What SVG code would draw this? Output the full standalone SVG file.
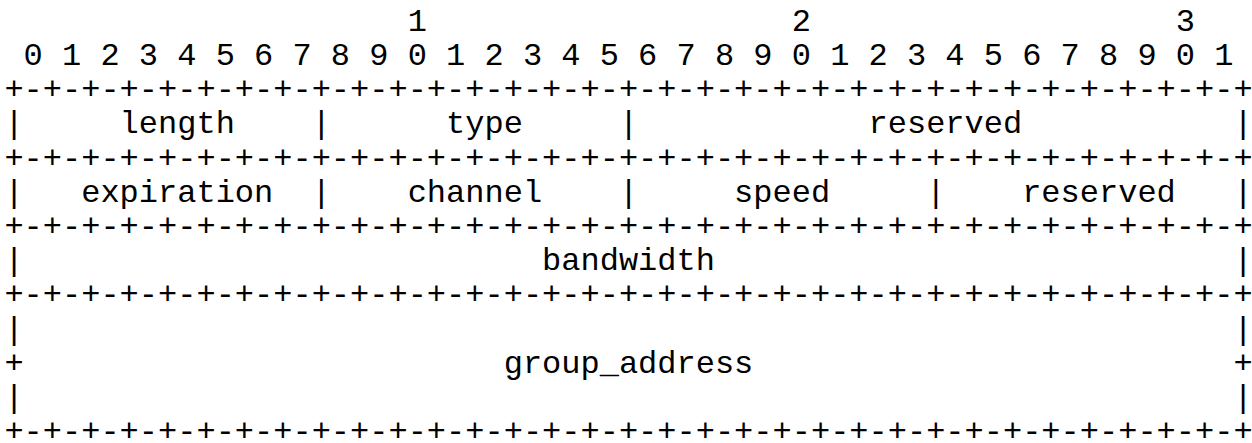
<svg xmlns="http://www.w3.org/2000/svg" width="1252" height="443" viewBox="0 0 1252 443">
<style>
text{font-family:"Liberation Mono","Courier New",monospace;font-size:32px;fill:#000;white-space:pre}
</style>
<rect width="1252" height="443" fill="#fff"/>
<g id="diagram" xml:space="preserve">
<text x="4.4" y="31">                     1                   2                   3</text>
<text x="4.4" y="65"> 0 1 2 3 4 5 6 7 8 9 0 1 2 3 4 5 6 7 8 9 0 1 2 3 4 5 6 7 8 9 0 1</text>
<text x="4.4" y="99.2">+-+-+-+-+-+-+-+-+-+-+-+-+-+-+-+-+-+-+-+-+-+-+-+-+-+-+-+-+-+-+-+-+</text>
<text x="4.4" y="133.4">|     length    |      type     |            reserved           |</text>
<text x="4.4" y="167.6">+-+-+-+-+-+-+-+-+-+-+-+-+-+-+-+-+-+-+-+-+-+-+-+-+-+-+-+-+-+-+-+-+</text>
<text x="4.4" y="201.8">|   expiration  |    channel    |     speed     |    reserved   |</text>
<text x="4.4" y="236">+-+-+-+-+-+-+-+-+-+-+-+-+-+-+-+-+-+-+-+-+-+-+-+-+-+-+-+-+-+-+-+-+</text>
<text x="4.4" y="270.2">|                           bandwidth                           |</text>
<text x="4.4" y="304.4">+-+-+-+-+-+-+-+-+-+-+-+-+-+-+-+-+-+-+-+-+-+-+-+-+-+-+-+-+-+-+-+-+</text>
<text x="4.4" y="338.6">|                                                               |</text>
<text x="4.4" y="372.8">+                         group_address                         +</text>
<text x="4.4" y="407">|                                                               |</text>
<text x="4.4" y="441.2">+-+-+-+-+-+-+-+-+-+-+-+-+-+-+-+-+-+-+-+-+-+-+-+-+-+-+-+-+-+-+-+-+</text>
</g>
</svg>
